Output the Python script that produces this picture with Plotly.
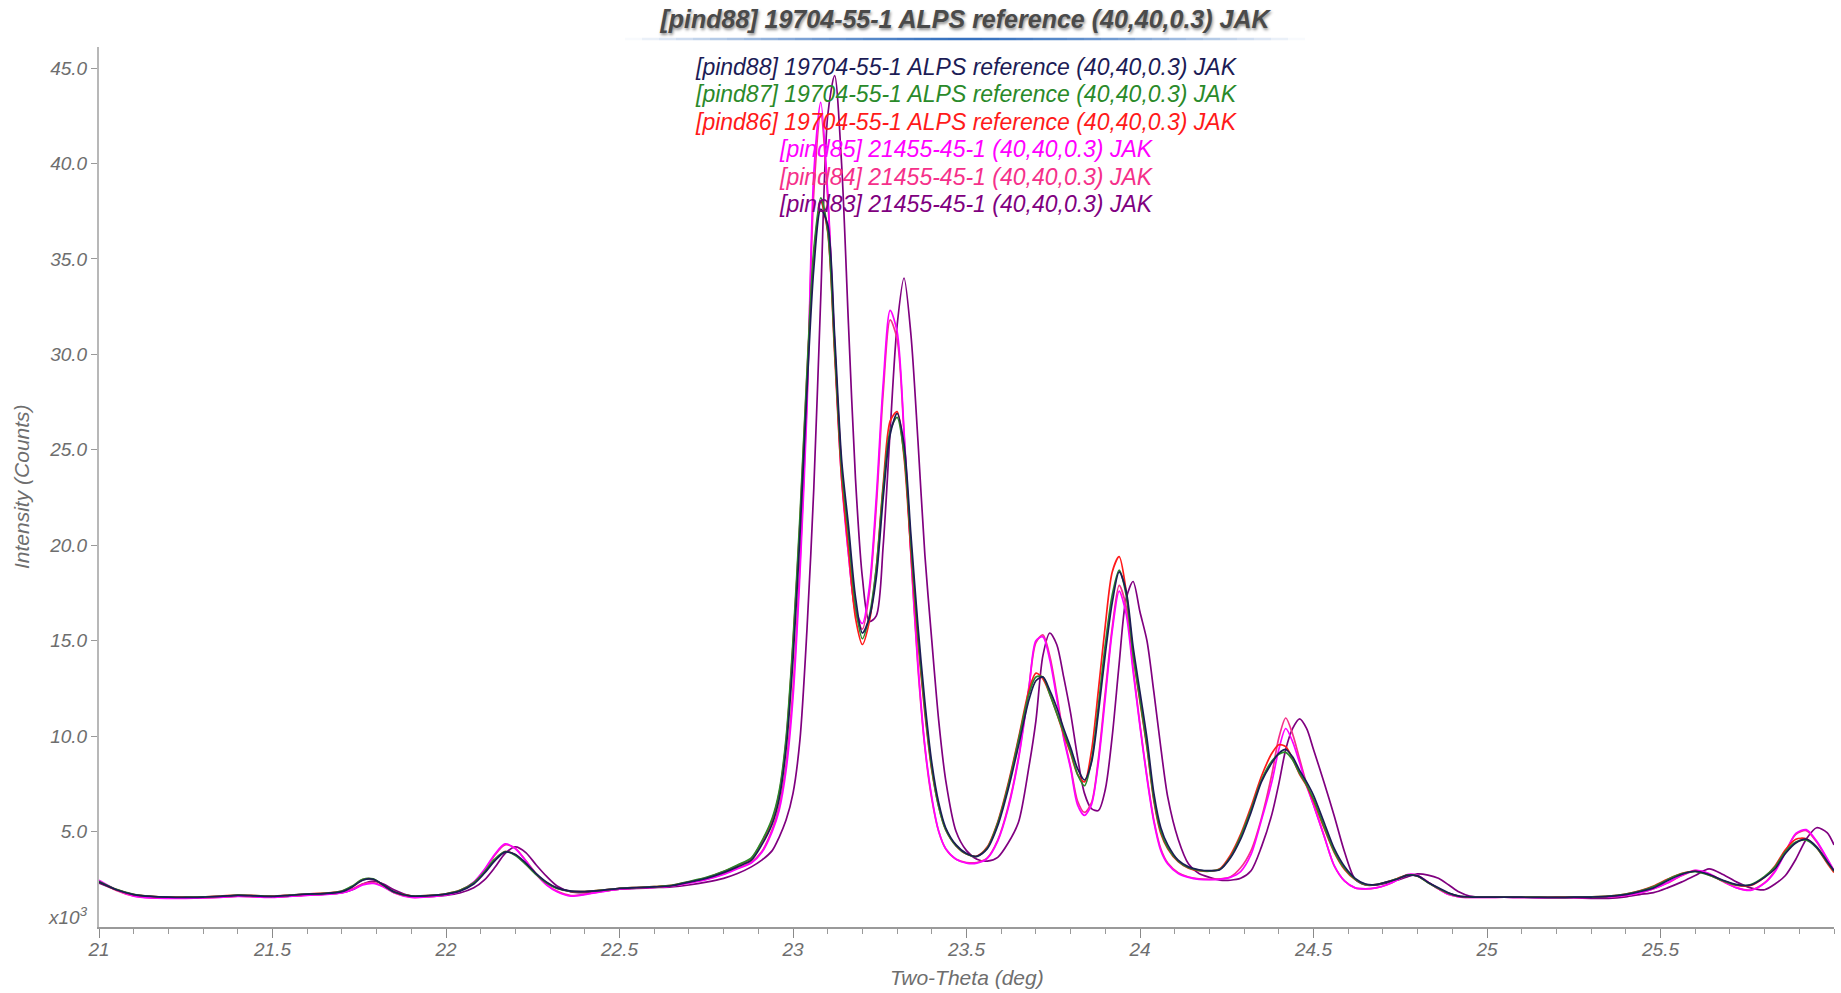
import plotly.graph_objects as go

# ---------------- data (intensity in x10^3 counts) ----------------
two_theta = [
    21.00, 21.05, 21.10, 21.15, 21.20, 21.25, 21.30, 21.35, 21.40, 21.45,
    21.50, 21.55, 21.60, 21.65, 21.70, 21.73, 21.76, 21.79, 21.82, 21.85,
    21.90, 21.95, 22.00, 22.04, 22.08, 22.11, 22.14, 22.17, 22.20, 22.23,
    22.26, 22.29, 22.32, 22.36, 22.40, 22.45, 22.50, 22.55, 22.60, 22.65,
    22.70, 22.75, 22.80, 22.84, 22.88, 22.91, 22.94, 22.96, 22.98, 23.00,
    23.02, 23.04, 23.06, 23.08, 23.10, 23.12, 23.14, 23.16, 23.18, 23.20,
    23.22, 23.24, 23.26, 23.28, 23.30, 23.32, 23.34, 23.36, 23.38, 23.40,
    23.42, 23.44, 23.47, 23.50, 23.53, 23.56, 23.59, 23.62, 23.65, 23.68,
    23.70, 23.72, 23.74, 23.76, 23.78, 23.80, 23.82, 23.84, 23.86, 23.88,
    23.90, 23.92, 23.94, 23.96, 23.98, 24.00, 24.02, 24.04, 24.06, 24.08,
    24.11, 24.14, 24.17, 24.20, 24.23, 24.26, 24.29, 24.32, 24.35, 24.38,
    24.40, 24.42, 24.44, 24.46, 24.48, 24.50, 24.53, 24.56, 24.59, 24.62,
    24.65, 24.68, 24.71, 24.74, 24.77, 24.80, 24.83, 24.86, 24.89, 24.92,
    24.95, 25.00, 25.05, 25.10, 25.15, 25.20, 25.25, 25.30, 25.35, 25.40,
    25.44, 25.48, 25.52, 25.56, 25.60, 25.64, 25.68, 25.72, 25.76, 25.80,
    25.83, 25.86, 25.89, 25.92, 25.95, 25.98, 26.00,
]

pind83 = [
    2.30, 1.95, 1.68, 1.58, 1.54, 1.53, 1.55, 1.58, 1.63, 1.60,
    1.57, 1.62, 1.68, 1.72, 1.80, 1.95, 2.25, 2.40, 2.25, 1.95,
    1.62, 1.60, 1.66, 1.78, 2.05, 2.45, 3.10, 3.85, 4.20, 3.90,
    3.25, 2.65, 2.15, 1.84, 1.80, 1.88, 1.98, 2.02, 2.06, 2.10,
    2.20, 2.35, 2.55, 2.80, 3.15, 3.50, 4.00, 4.70, 5.60, 7.00,
    9.80, 15.5, 23.0, 33.0, 42.5, 44.6, 40.0, 31.5, 23.5, 18.3,
    16.0, 16.3, 20.0, 26.0, 31.5, 34.0, 31.0, 25.5, 19.5, 15.0,
    10.8, 7.70, 5.00, 4.00, 3.55, 3.45, 3.65, 4.40, 5.50, 8.40,
    10.8, 14.2, 15.4, 14.8, 13.1, 11.2, 8.90, 7.00, 6.20, 6.10,
    7.20, 10.0, 13.8, 17.2, 18.1, 16.5, 15.0, 12.3, 9.40, 6.80,
    4.60, 3.30, 2.80, 2.60, 2.46, 2.45, 2.55, 2.95, 4.20, 5.90,
    7.50, 9.30, 10.4, 10.9, 10.4, 9.30, 7.60, 5.80, 3.90, 2.50,
    2.20, 2.20, 2.30, 2.45, 2.62, 2.78, 2.72, 2.55, 2.20, 1.83,
    1.62, 1.56, 1.56, 1.55, 1.54, 1.52, 1.52, 1.50, 1.50, 1.58,
    1.70, 1.80, 2.05, 2.35, 2.70, 3.05, 2.75, 2.35, 2.05, 1.95,
    2.25, 2.70, 3.55, 4.60, 5.20, 4.95, 4.30,
]

pind84 = [
    2.40, 1.92, 1.63, 1.53, 1.51, 1.51, 1.53, 1.56, 1.61, 1.59,
    1.56, 1.61, 1.67, 1.72, 1.80, 2.00, 2.25, 2.32, 2.12, 1.80,
    1.56, 1.59, 1.70, 1.90, 2.35, 2.95, 3.75, 4.30, 4.12, 3.48,
    2.78, 2.22, 1.88, 1.65, 1.72, 1.86, 1.98, 2.05, 2.09, 2.15,
    2.32, 2.50, 2.78, 3.08, 3.40, 3.95, 5.10, 6.30, 8.50, 12.5,
    19.0, 27.5, 38.5, 42.6, 38.2, 30.5, 24.0, 19.5, 16.5, 15.6,
    17.5, 22.0, 28.0, 31.8, 30.8, 25.8, 19.4, 13.6, 9.40, 6.70,
    5.00, 4.10, 3.55, 3.38, 3.38, 3.62, 4.55, 6.30, 8.90, 12.6,
    14.9, 15.3, 14.2, 12.2, 10.0, 8.40, 6.60, 6.00, 6.50, 8.80,
    12.3, 15.7, 17.9, 16.8, 13.6, 10.6, 7.90, 5.60, 4.10, 3.35,
    2.85, 2.62, 2.52, 2.50, 2.52, 2.62, 3.10, 4.00, 5.70, 8.00,
    9.90, 10.95, 10.1, 8.80, 7.50, 6.40, 4.80, 3.20, 2.40, 2.05,
    2.00, 2.05, 2.20, 2.45, 2.72, 2.70, 2.35, 2.00, 1.70, 1.58,
    1.55, 1.55, 1.56, 1.55, 1.54, 1.54, 1.55, 1.56, 1.58, 1.66,
    1.78, 2.00, 2.30, 2.68, 2.95, 2.78, 2.38, 2.05, 1.94, 2.32,
    2.95, 3.95, 4.85, 5.05, 4.45, 3.55, 2.95,
]

pind85 = [
    2.45, 1.95, 1.62, 1.52, 1.50, 1.50, 1.52, 1.55, 1.60, 1.58,
    1.55, 1.60, 1.66, 1.70, 1.78, 1.95, 2.20, 2.28, 2.10, 1.80,
    1.55, 1.58, 1.68, 1.88, 2.35, 3.00, 3.80, 4.35, 4.10, 3.45,
    2.75, 2.20, 1.85, 1.62, 1.70, 1.85, 1.98, 2.04, 2.08, 2.14,
    2.30, 2.48, 2.75, 3.05, 3.35, 3.90, 5.00, 6.10, 8.20, 12.0,
    18.5, 27.0, 39.5, 43.2, 38.5, 30.5, 23.5, 19.5, 16.6, 15.9,
    17.8, 22.5, 28.5, 32.3, 31.2, 26.0, 19.5, 13.8, 9.50, 6.80,
    5.00, 4.10, 3.55, 3.35, 3.35, 3.60, 4.50, 6.20, 8.80, 12.5,
    15.0, 15.2, 14.0, 12.0, 9.90, 8.30, 6.40, 5.85, 6.40, 8.60,
    12.0, 15.5, 17.6, 16.4, 13.4, 10.5, 7.80, 5.50, 4.00, 3.30,
    2.80, 2.60, 2.50, 2.48, 2.50, 2.60, 2.90, 3.80, 5.60, 7.60,
    9.30, 10.4, 9.70, 8.60, 7.40, 6.40, 4.80, 3.20, 2.40, 2.05,
    2.00, 2.05, 2.20, 2.45, 2.75, 2.70, 2.35, 2.00, 1.70, 1.58,
    1.55, 1.55, 1.56, 1.55, 1.54, 1.54, 1.55, 1.56, 1.58, 1.66,
    1.78, 2.00, 2.32, 2.70, 2.97, 2.80, 2.40, 2.05, 1.92, 2.30,
    2.90, 3.90, 4.90, 5.10, 4.50, 3.60, 2.95,
]

pind86 = [
    2.36, 1.96, 1.70, 1.61, 1.57, 1.57, 1.58, 1.62, 1.67, 1.65,
    1.62, 1.67, 1.73, 1.77, 1.88, 2.12, 2.48, 2.50, 2.18, 1.84,
    1.63, 1.65, 1.74, 1.92, 2.30, 2.85, 3.50, 3.95, 3.78, 3.30,
    2.76, 2.32, 2.03, 1.87, 1.86, 1.93, 2.03, 2.07, 2.11, 2.18,
    2.37, 2.58, 2.90, 3.22, 3.60, 4.45, 5.60, 7.00, 9.70, 14.8,
    21.2, 28.8, 35.2, 38.0, 36.4, 30.0, 23.5, 19.8, 16.2, 14.8,
    16.0, 18.8, 23.2, 26.5, 27.0, 24.6, 19.6, 15.0, 11.2, 8.20,
    6.30, 5.10, 4.25, 3.82, 3.72, 4.20, 5.50, 7.50, 9.90, 12.4,
    13.3, 13.0, 12.2, 11.2, 10.1, 9.10, 8.00, 7.60, 9.20, 12.4,
    15.8, 18.6, 19.4, 17.6, 14.3, 11.8, 9.40, 6.60, 4.90, 4.10,
    3.42, 3.08, 2.95, 2.92, 3.05, 3.75, 4.85, 6.30, 7.90, 9.10,
    9.55, 9.45, 8.80, 8.00, 7.40, 6.60, 5.20, 3.90, 3.00, 2.48,
    2.22, 2.22, 2.36, 2.53, 2.72, 2.66, 2.33, 2.02, 1.76, 1.61,
    1.58, 1.57, 1.58, 1.57, 1.56, 1.56, 1.57, 1.58, 1.62, 1.73,
    1.90, 2.15, 2.50, 2.80, 2.92, 2.73, 2.42, 2.18, 2.18, 2.62,
    3.20, 4.05, 4.60, 4.62, 4.15, 3.35, 2.85,
]

pind87 = [
    2.38, 1.97, 1.71, 1.61, 1.57, 1.56, 1.58, 1.61, 1.67, 1.64,
    1.61, 1.67, 1.73, 1.76, 1.88, 2.15, 2.50, 2.52, 2.18, 1.83,
    1.63, 1.65, 1.74, 1.92, 2.32, 2.88, 3.55, 3.95, 3.75, 3.28,
    2.74, 2.30, 2.02, 1.87, 1.86, 1.93, 2.03, 2.07, 2.11, 2.18,
    2.38, 2.60, 2.92, 3.25, 3.62, 4.50, 5.70, 7.10, 9.90, 15.0,
    21.5, 29.0, 35.5, 38.2, 36.5, 30.3, 24.0, 20.5, 16.8, 15.1,
    16.3, 18.8, 23.0, 26.0, 26.7, 24.8, 20.0, 15.3, 11.4, 8.30,
    6.30, 5.10, 4.25, 3.82, 3.70, 4.15, 5.45, 7.40, 9.80, 12.2,
    13.1, 13.1, 12.2, 11.2, 10.2, 9.20, 8.00, 7.40, 8.70, 11.6,
    14.8, 17.4, 18.7, 17.4, 14.3, 11.9, 9.50, 6.70, 5.00, 4.15,
    3.45, 3.10, 2.97, 2.93, 3.02, 3.65, 4.75, 6.15, 7.70, 8.70,
    9.05, 9.15, 8.75, 8.05, 7.45, 6.70, 5.30, 3.95, 3.05, 2.50,
    2.22, 2.22, 2.35, 2.52, 2.72, 2.66, 2.32, 2.02, 1.76, 1.61,
    1.58, 1.57, 1.57, 1.56, 1.56, 1.55, 1.56, 1.58, 1.62, 1.73,
    1.88, 2.12, 2.48, 2.78, 2.90, 2.72, 2.42, 2.20, 2.22, 2.65,
    3.15, 3.95, 4.45, 4.55, 4.15, 3.40, 2.92,
]

pind88 = [
    2.35, 1.95, 1.70, 1.60, 1.56, 1.55, 1.57, 1.60, 1.66, 1.63,
    1.60, 1.66, 1.72, 1.75, 1.85, 2.10, 2.45, 2.50, 2.20, 1.85,
    1.62, 1.64, 1.72, 1.88, 2.25, 2.80, 3.45, 3.92, 3.80, 3.35,
    2.80, 2.35, 2.05, 1.88, 1.86, 1.92, 2.02, 2.06, 2.10, 2.16,
    2.35, 2.55, 2.85, 3.15, 3.50, 4.30, 5.40, 6.70, 9.30, 14.0,
    20.5, 28.0, 34.5, 37.6, 36.8, 31.0, 24.5, 21.0, 17.3, 15.4,
    16.2, 18.3, 22.5, 25.8, 26.9, 25.3, 20.5, 15.8, 11.8, 8.60,
    6.50, 5.20, 4.30, 3.85, 3.70, 4.10, 5.30, 7.20, 9.50, 11.9,
    12.9, 13.1, 12.4, 11.5, 10.4, 9.40, 8.30, 7.70, 8.60, 11.2,
    14.3, 17.0, 18.6, 17.6, 14.7, 12.3, 9.90, 7.00, 5.20, 4.30,
    3.50, 3.15, 3.00, 2.95, 3.00, 3.60, 4.60, 6.00, 7.60, 8.60,
    9.10, 9.30, 8.90, 8.20, 7.60, 6.90, 5.50, 4.10, 3.15, 2.55,
    2.25, 2.22, 2.35, 2.50, 2.70, 2.68, 2.35, 2.05, 1.78, 1.62,
    1.58, 1.56, 1.57, 1.56, 1.55, 1.55, 1.56, 1.57, 1.60, 1.70,
    1.85, 2.05, 2.42, 2.75, 2.92, 2.75, 2.45, 2.22, 2.20, 2.60,
    3.05, 3.85, 4.40, 4.60, 4.20, 3.45, 2.95,
]

series_names = [
    "[pind88] 19704-55-1 ALPS reference (40,40,0.3) JAK",
    "[pind87] 19704-55-1 ALPS reference (40,40,0.3) JAK",
    "[pind86] 19704-55-1 ALPS reference (40,40,0.3) JAK",
    "[pind85] 21455-45-1 (40,40,0.3) JAK",
    "[pind84] 21455-45-1 (40,40,0.3) JAK",
    "[pind83] 21455-45-1 (40,40,0.3) JAK",
]
series_values = [pind88, pind87, pind86, pind85, pind84, pind83]
series_colors = ["#1c1c56", "#2a8a2a", "#ff1a1a", "#ff00ff", "#f5308a", "#800080"]

x_tick_vals = [21, 21.5, 22, 22.5, 23, 23.5, 24, 24.5, 25, 25.5]
x_tick_text = ["21", "21.5", "22", "22.5", "23", "23.5", "24", "24.5", "25", "25.5"]
y_tick_vals = [5, 10, 15, 20, 25, 30, 35, 40, 45]

chart_title = "[pind88] 19704-55-1 ALPS reference (40,40,0.3) JAK"
x_title = "Two-Theta (deg)"
y_title = "Intensity (Counts)"

# ---------------- layout geometry ----------------
W, H = 1841, 993
ML, MR, MT, MB = 99, 7, 47, 66
PW, PH = W - ML - MR, H - MT - MB
FONT = "Liberation Sans, Arial, sans-serif"
GRAY = "#6e6e6e"


def py(px_from_top):
    return 1 - (px_from_top - MT) / PH


def pxx(px_from_left):
    return (px_from_left - ML) / PW


fig = go.Figure()
# draw purple first, navy last (on top)
for name, vals, col in reversed(list(zip(series_names, series_values, series_colors))):
    fig.add_trace(go.Scatter(
        x=two_theta, y=vals, mode="lines", name=name,
        line=dict(color=col, width=1.7, shape="spline", smoothing=0.8),
        showlegend=False,
    ))

annotations = []
# legend lines (centered text, coloured)
legend_y = [67, 94, 122, 149, 177, 204]
for name, col, yy in zip(series_names, series_colors, legend_y):
    annotations.append(dict(
        text="<i>%s</i>" % name, xref="paper", yref="paper", x=0.5, y=py(yy),
        xanchor="center", yanchor="middle", showarrow=False,
        font=dict(family=FONT, size=23, color=col),
    ))
# axis titles
annotations.append(dict(
    text="<i>%s</i>" % x_title, xref="paper", yref="paper", x=0.5, y=py(978),
    xanchor="center", yanchor="middle", showarrow=False,
    font=dict(family=FONT, size=21, color=GRAY),
))
annotations.append(dict(
    text="<i>%s</i>" % y_title, xref="paper", yref="paper", x=pxx(21), y=0.5,
    xanchor="center", yanchor="middle", showarrow=False, textangle=-90,
    font=dict(family=FONT, size=21, color=GRAY),
))
# x10^3 multiplier label
annotations.append(dict(
    text="<i>x10<sup>3</sup></i>", xref="paper", yref="paper", x=pxx(90), y=py(916),
    xanchor="right", yanchor="middle", showarrow=False,
    font=dict(family=FONT, size=19, color=GRAY),
))

# gradient underline below the title
shapes = []
x0p, x1p, yl = 625, 1305, 39
nseg = 40
for i in range(nseg):
    a = x0p + (x1p - x0p) * i / nseg
    b = x0p + (x1p - x0p) * (i + 1) / nseg
    t = abs(((a + b) / 2 - (x0p + x1p) / 2) / ((x1p - x0p) / 2))
    op = max(0.0, 1 - t ** 1.4)
    shapes.append(dict(
        type="line", xref="paper", yref="paper",
        x0=pxx(a), x1=pxx(b), y0=py(yl), y1=py(yl),
        line=dict(color="rgba(52,112,190,%.3f)" % op, width=2.5),
    ))

minor_vals = [round(21 + 0.1 * i, 2) for i in range(51)]

fig.update_layout(
    width=W, height=H,
    margin=dict(l=ML, r=MR, t=MT, b=MB),
    paper_bgcolor="white", plot_bgcolor="white",
    title=dict(
        text="<b><i>%s</i></b>" % chart_title,
        x=pxx(965), xanchor="center", y=1 - 19 / H, yanchor="middle",
        xref="paper", yref="container",
        font=dict(family=FONT, size=25, color="#4a4a4a",
                  shadow="1px 2px 3px rgba(0,0,0,0.45)"),
    ),
    xaxis=dict(
        range=[21, 26], showgrid=False, zeroline=False,
        showline=True, linecolor="#9a9a9a", linewidth=1.5,
        tickmode="array", tickvals=x_tick_vals, ticktext=x_tick_text,
        ticks="outside", ticklen=9, tickcolor="#8a8a8a", tickwidth=1.2,
        ticklabelstandoff=-5,
        tickfont=dict(family=FONT, size=19, color=GRAY, style="italic"),
        minor=dict(tickmode="array", tickvals=minor_vals, ticks="outside",
                   ticklen=5, tickcolor="#9a9a9a", tickwidth=1),
    ),
    yaxis=dict(
        range=[0, 46.1], showgrid=False, zeroline=False,
        showline=True, linecolor="#b8b8b8", linewidth=2,
        tickmode="array", tickvals=y_tick_vals, tickformat=".1f",
        ticks="outside", ticklen=6, tickcolor="#9a9a9a", tickwidth=1.2,
        tickfont=dict(family=FONT, size=19, color=GRAY, style="italic"),
    ),
    annotations=annotations,
    shapes=shapes,
)

fig.write_html("out.html")
